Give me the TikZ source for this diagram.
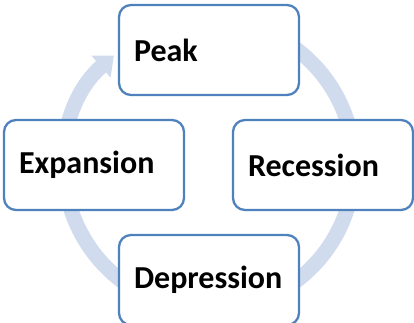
\documentclass[tikz,border=0pt]{standalone}
\usepackage{fontspec}
\setmainfont{Carlito}
\usetikzlibrary{arrows.meta,calc}
\definecolor{cycleblue}{RGB}{79,129,189}
\definecolor{cycletint}{RGB}{208,219,238}

\begin{document}
\begin{tikzpicture}[
  x=1pt, y=-1pt,
  font=\fontsize{32}{36}\selectfont\bfseries,
  phase/.style={
    draw=cycleblue,
    line width=2.3pt,
    rounded corners=12pt,
    fill=white,
    minimum width=180pt,
    minimum height=90pt,
    text width=150pt,
    inner xsep=15pt,
    align=left
  },
  ring/.style={draw=cycletint, line width=15pt, -{Triangle[length=17pt,width=28pt]}}
]
\useasboundingbox (0,0) rectangle (414,323);
\coordinate (hub) at (209,165);

% cycle arrow behind the boxes
\draw[ring] ($(hub)+(240:145)$) arc[start angle=240, end angle=589, radius=145];

\node[phase] (peak) at ($(hub)+(0,-115)$) {Peak};
\node[phase] (recession) at ($(hub)+(114,0)$) {Recession};
\node[phase] (depression) at ($(hub)+(0,115)$) {Depression};
\node[phase] (expansion) at ($(hub)+(-115,0)$) {Expansion};
\end{tikzpicture}
\end{document}
